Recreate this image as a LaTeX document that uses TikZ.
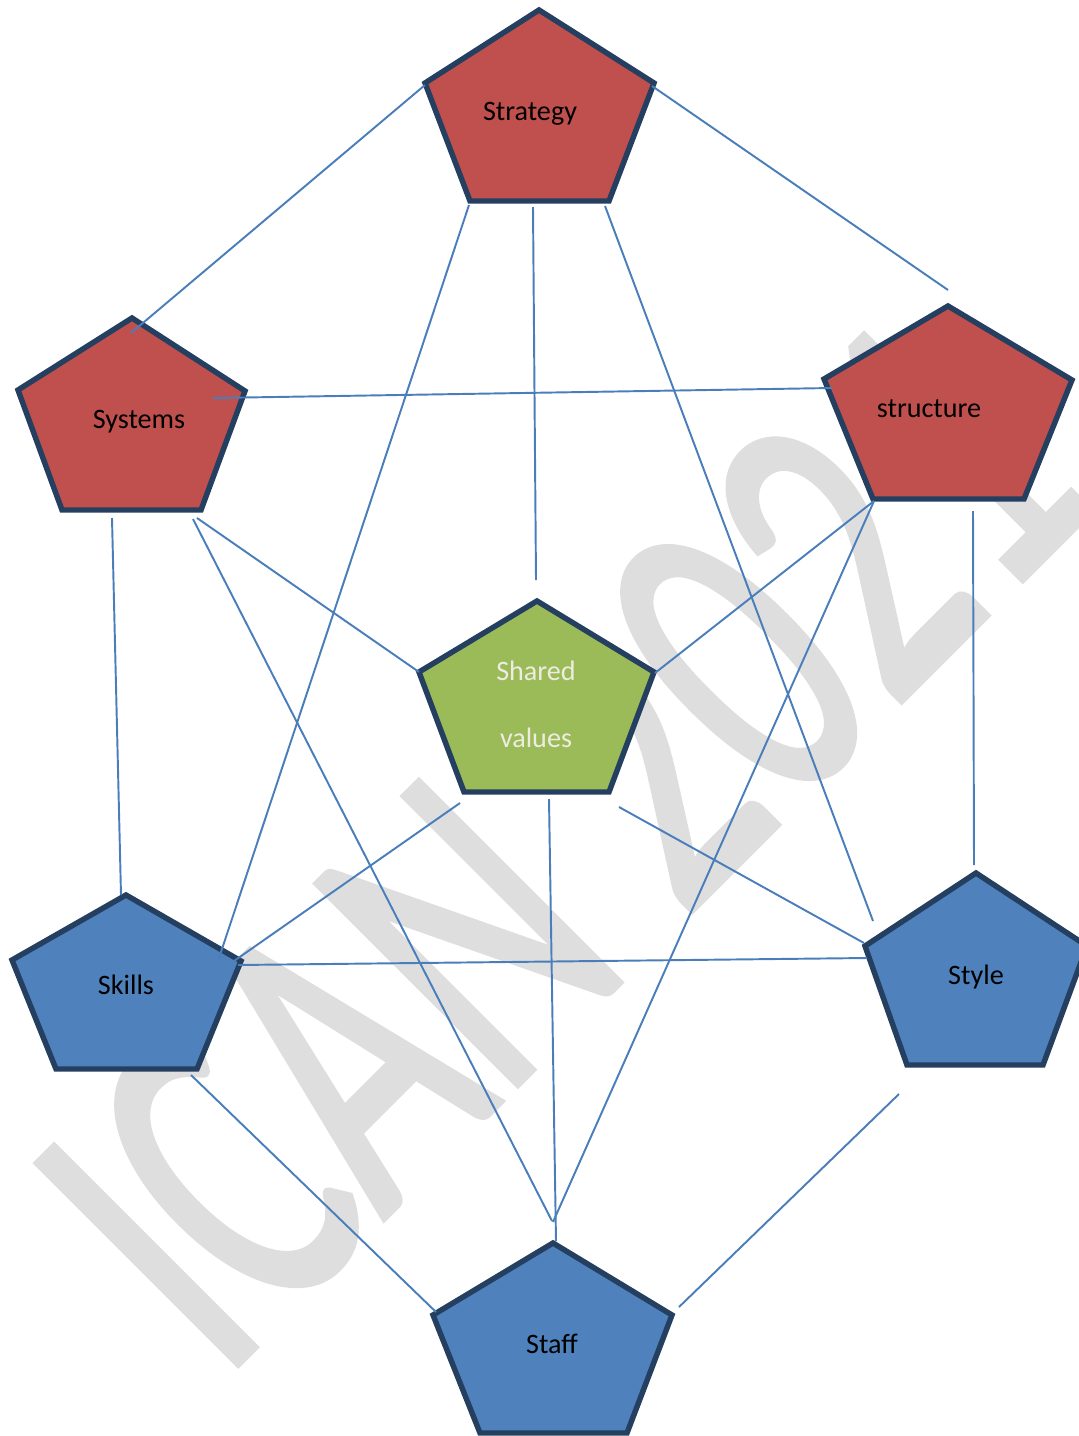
\documentclass[tikz,border=0pt]{standalone}
\usepackage{fontspec}
\setmainfont{Carlito}
\newfontfamily\markfont{Carlito}[FakeBold=1.6]
\definecolor{redfill}{HTML}{C0504D}
\definecolor{bluefill}{HTML}{4F81BD}
\definecolor{greenfill}{HTML}{9BBB59}
\definecolor{penline}{HTML}{243F60}
\definecolor{linkblue}{HTML}{4A7EBB}
\definecolor{markgray}{RGB}{222,222,222}
\definecolor{paletext}{HTML}{EEECE1}
\begin{document}
\begin{tikzpicture}[x=0.01cm,y=-0.01cm,
  pent/.style={draw=penline, line width=1.55pt, line join=miter},
  link/.style={draw=linkblue, line width=0.55pt},
  lbl/.style={anchor=base, inner sep=0pt, font=\fontsize{8}{9.6}\selectfont}]
\useasboundingbox (0,0) rectangle (1078,1436);

% background watermark
\node[anchor=base west, rotate=45, inner sep=0pt, text=markgray,
      font=\markfont\fontsize{125.8}{130}\selectfont] (mark) at (220,1382)
      {\scalebox{0.66}[1]{ICAN 2021}};

% pentagons
\path[pent, fill=redfill]   (539,10) -- (654,83) -- (609,201) -- (470,201) -- (425,83) -- cycle;
\path[pent, fill=redfill]   (132,318) -- (245,391) -- (201,510) -- (62,510) -- (18,390) -- cycle;
\path[pent, fill=redfill]   (948,306) -- (1072,380) -- (1024,499) -- (873,499) -- (824,379) -- cycle;
\path[pent, fill=greenfill] (537,601) -- (654,672) -- (609,792) -- (464,792) -- (419,672) -- cycle;
\path[pent, fill=bluefill]  (126,895) -- (241,961) -- (197,1069) -- (56,1069) -- (12,960) -- cycle;
\path[pent, fill=bluefill]  (976,873) -- (1087,946) -- (1043,1065) -- (907,1065) -- (865,946) -- cycle;
\path[pent, fill=bluefill]  (553,1243) -- (672,1315) -- (627,1433) -- (480,1433) -- (433,1315) -- cycle;

% labels
\node[lbl] (strategy)  at (530,120)  {Strategy};
\node[lbl] (systems)   at (139,428)  {Systems};
\node[lbl] (structure) at (929,417)  {structure};
\node[lbl, text=paletext] (shared) at (536,680) {Shared};
\node[lbl, text=paletext] (values) at (536,747) {values};
\node[lbl] (skills)    at (126,994)  {Skills};
\node[lbl] (style)     at (976,984)  {Style};
\node[lbl] (staff)     at (552,1353) {Staff};

% connector end points
\coordinate (stA) at (425,85);   \coordinate (syA) at (131,333);
\coordinate (stB) at (652,86);   \coordinate (suA) at (948,290);
\coordinate (stC) at (469,205);  \coordinate (skA) at (219,958);
\coordinate (stD) at (533,207);  \coordinate (shA) at (536,580);
\coordinate (stE) at (605,206);  \coordinate (slA) at (873,921);
\coordinate (syB) at (213,398);  \coordinate (suB) at (832,388);
\coordinate (syC) at (112,518);  \coordinate (skB) at (121,895);
\coordinate (syD) at (193,519);  \coordinate (sfA) at (552,1221);
\coordinate (syE) at (197,518);  \coordinate (shB) at (419,672);
\coordinate (suC) at (874,501);  \coordinate (shC) at (655,673);
\coordinate (sfB) at (553,1222);
\coordinate (suD) at (973,511);  \coordinate (slB) at (974,865);
\coordinate (shD) at (460,803);  \coordinate (skC) at (234,961);
\coordinate (shE) at (549,799);  \coordinate (sfC) at (556,1241);
\coordinate (shF) at (619,807);  \coordinate (slC) at (864,943);
\coordinate (skD) at (238,965);  \coordinate (slD) at (867,958);
\coordinate (skE) at (191,1075); \coordinate (sfD) at (436,1312);
\coordinate (slE) at (899,1094); \coordinate (sfE) at (679,1307);

% connectors
\draw[link] (stA) -- (syA);
\draw[link] (stB) -- (suA);
\draw[link] (stC) -- (skA);
\draw[link] (stD) -- (shA);
\draw[link] (stE) -- (slA);
\draw[link] (syB) -- (suB);
\draw[link] (syC) -- (skB);
\draw[link] (syD) -- (sfA);
\draw[link] (syE) -- (shB);
\draw[link] (suC) -- (shC);
\draw[link] (suC) -- (sfB);
\draw[link] (suD) -- (slB);
\draw[link] (shD) -- (skC);
\draw[link] (shE) -- (sfC);
\draw[link] (shF) -- (slC);
\draw[link] (skD) -- (slD);
\draw[link] (skE) -- (sfD);
\draw[link] (slE) -- (sfE);
\end{tikzpicture}
\end{document}
